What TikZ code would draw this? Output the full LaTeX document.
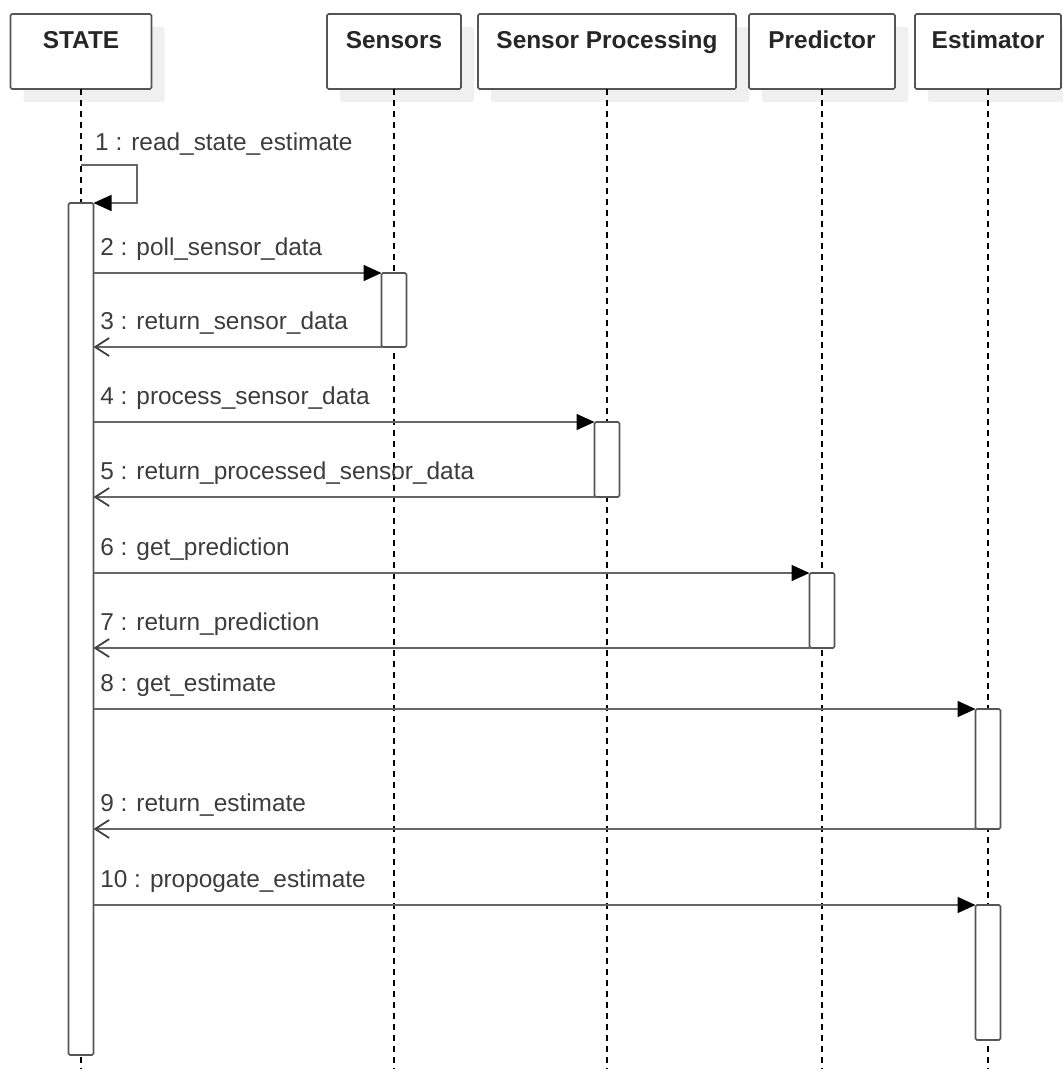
\documentclass[tikz,border=0pt]{standalone}
\usepackage{fontspec}
\setmainfont{Liberation Sans}
\usetikzlibrary{positioning, arrows.meta, shadows}

\definecolor{boxgray}{HTML}{555555}
\definecolor{linegray}{HTML}{666666}
\definecolor{labelgray}{HTML}{3C3C3C}
\definecolor{shadowgray}{HTML}{F0F0F0}

\begin{document}
\begin{tikzpicture}[
  x=1pt, y=-1pt,
  font=\fontsize{24.4}{29}\selectfont,
  % Estilos de cajas
  actor/.style={draw=boxgray, line width=1.6pt, rounded corners=1.5pt, fill=white,
    outer sep=0pt, inner ysep=16pt, text height=18pt, text depth=25pt,
    font=\fontsize{24.4}{29}\selectfont\bfseries, text=black!85,
    drop shadow={shadow xshift=13pt, shadow yshift=-13pt, fill=shadowgray, draw=none, opacity=1}},
  bar/.style={draw=boxgray, line width=1.6pt, rounded corners=1.5pt, fill=white,
    outer sep=0pt, minimum width=25pt},
  % Estilos de flechas
  lifeline/.style={draw=black, line width=1.2pt, dash pattern=on 6pt off 5pt},
  call/.style={draw=linegray, line width=1.6pt, -{Triangle[length=18pt, width=16pt, color=black]}},
  reply/.style={draw=linegray, line width=1.6pt, -{Straight Barb[length=14pt, width=18pt, line width=1.8pt, color=black!75]}},
  msg label/.style={anchor=base west, inner sep=0pt, text=labelgray, xshift=6pt, yshift=18pt}
]
  \useasboundingbox (0,0) rectangle (1063,1077);

  % ==========================================
  % HEADERS
  % ==========================================
  \node[actor, minimum width=141pt] (state) at (81,51.5) {STATE};
  \node[actor, minimum width=134pt] (sensors) at (394,51.5) {Sensors};
  \node[actor, minimum width=258pt, right=17pt of sensors] (sensproc) {Sensor Processing};
  \node[actor, minimum width=146pt, right=13pt of sensproc] (predictor) {Predictor};
  \node[actor, minimum width=146pt, right=20pt of predictor] (estimator) {Estimator};

  % ==========================================
  % LIFELINES
  % ==========================================
  \coordinate (bottom) at (0,1069);
  \foreach \who in {state, sensors, sensproc, predictor, estimator}
    \draw[lifeline] (\who.south) -- (\who.south |- bottom);

  % ==========================================
  % ACTIVATIONS
  % ==========================================
  \node[bar, minimum height=852pt, below=114pt of state] (actState) {};
  \node[bar, minimum height=74pt, below=184pt of sensors] (actSens) {};
  \node[bar, minimum height=75pt, below=333pt of sensproc] (actProc) {};
  \node[bar, minimum height=75pt, below=484pt of predictor] (actPred) {};
  \node[bar, minimum height=120pt, below=620pt of estimator] (actEst1) {};
  \node[bar, minimum height=135pt, below=76pt of actEst1] (actEst2) {};

  % ==========================================
  % MESSAGES
  % ==========================================
  % self call
  \coordinate[above=38pt of actState.north] (selfOut);
  \draw[call] (selfOut) -- ++(56,0) |- (actState.north east);
  \node[msg label, xshift=8pt, yshift=-3pt] (lblRead) at (selfOut) {1 : read\_state\_estimate};

  \draw[call] (actState.east |- actSens.north) -- node[msg label, pos=0] {2 : poll\_sensor\_data} (actSens.north west);
  \draw[reply] (actSens.south west) -- node[msg label, pos=1] {3 : return\_sensor\_data} (actState.east |- actSens.south);

  \draw[call] (actState.east |- actProc.north) -- node[msg label, pos=0] {4 : process\_sensor\_data} (actProc.north west);
  \draw[reply] (actProc.south west) -- node[msg label, pos=1] {5 : return\_processed\_sensor\_data} (actState.east |- actProc.south);

  \draw[call] (actState.east |- actPred.north) -- node[msg label, pos=0] {6 : get\_prediction} (actPred.north west);
  \draw[reply] (actPred.south west) -- node[msg label, pos=1] {7 : return\_prediction} (actState.east |- actPred.south);

  \draw[call] (actState.east |- actEst1.north) -- node[msg label, pos=0] {8 : get\_estimate} (actEst1.north west);
  \draw[reply] (actEst1.south west) -- node[msg label, pos=1] {9 : return\_estimate} (actState.east |- actEst1.south);

  \draw[call] (actState.east |- actEst2.north) -- node[msg label, pos=0] {10 : propogate\_estimate} (actEst2.north west);

\end{tikzpicture}
\end{document}
